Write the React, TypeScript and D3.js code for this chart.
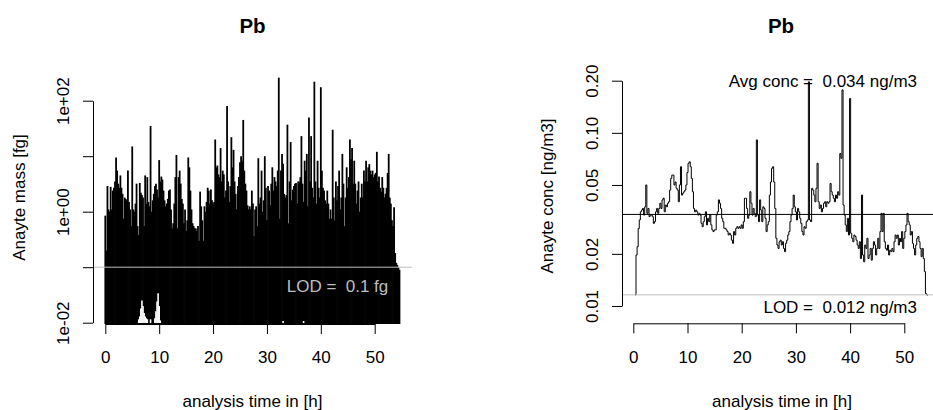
import React, { useEffect, useRef } from 'react';
import * as d3 from 'd3';

// sampling step of both series [h]
const stepH = 0.2;

// left panel: analyte mass per sample [fg], first sample at 0 h
const massStartH = 0;
const massValues = [
    0.85, 0.2, 2.9, 1.1, 1.0, 2.8, 1.1, 2.4, 2.7, 3.5,
    9.5, 5.5, 3.2, 2.7, 4.5, 2.7, 2.1, 0.75, 1.8, 1.7,
    1.6, 5.5, 1.5, 1.1, 0.55, 15, 1.1, 1.0, 1.4, 3.2,
    0.55, 0.38, 3.3, 2.2, 2.0, 1.8, 0.55, 4.5, 1.4, 4.2,
    1.5, 1.25, 35, 1.0, 1.6, 2.1, 2.9, 3.2, 2.5, 1.8,
    8.5, 3.5, 4.3, 3.8, 2.4, 1.6, 1.25, 1.4, 1.7, 2.4,
    2.5, 1.1, 0.5, 0.62, 1.4, 4.2, 10.5, 0.5, 4.2, 5.5,
    3.2, 1.7, 1.4, 0.62, 1.1, 0.45, 0.7, 9.5, 6.3, 2.4,
    1.1, 0.62, 0.55, 0.5, 0.5, 0.45, 0.55, 0.3, 2.3, 1.25,
    0.7, 0.3, 1.25, 1.0, 1.5, 2.7, 2.4, 1.4, 2.5, 1.6,
    1.4, 1.5, 20, 6.3, 6.8, 4.7, 4.2, 14, 3.5, 5.5,
    4.7, 1.8, 2.4, 80, 3.5, 1.5, 2.9, 22, 6.3, 13,
    3.5, 2.1, 1.1, 2.9, 4.2, 7.8, 10, 8.3, 45, 5.5,
    3.2, 2.4, 1.3, 1.1, 1.25, 1.1, 2.4, 1.4, 0.36, 1.1,
    1.25, 0.55, 9.2, 1.4, 1.8, 5.5, 1.0, 1.6, 10, 2.7,
    0.7, 2.9, 2.4, 1.3, 3.2, 6.3, 2.4, 4.2, 3.5, 2.9,
    5.5, 260, 0.75, 5.5, 11, 7.3, 2.1, 1.8, 2.0, 37,
    0.62, 3.5, 18, 1.6, 2.5, 2.9, 3.2, 3.3, 1.4, 3.5,
    3.5, 4.2, 23, 3.2, 1.5, 8.3, 5.5, 11, 1.25, 50,
    3.5, 23, 2.7, 1.8, 220, 3.5, 1.4, 8.3, 2.7, 1.8,
    175, 5.5, 2.7, 2.4, 1.6, 1.4, 2.4, 1.4, 0.75, 1.1,
    0.75, 30, 1.8, 0.7, 3.5, 1.6, 2.9, 5.5, 1.1, 1.8,
    11, 3.2, 0.55, 1.8, 6.3, 2.7, 4.2, 20, 8.8, 14,
    3.2, 8.3, 3.2, 1.4, 2.4, 3.5, 1.0, 1.8, 3.2, 1.8,
    5.5, 3.5, 8.3, 3.5, 6.3, 7.2, 5.5, 4.7, 5.5, 4.2,
    4.7, 5.0, 12, 3.5, 4.3, 2.7, 2.3, 4.2, 2.7, 1.8,
    2.1, 2.7, 5.0, 11, 1.8, 1.4, 0.7, 0.55, 1.2, 0.18,
    0.12, 0.11, 0.1, 0.09
];

// white marks at the bottom of the mass plot
const gapTimes = [6.2, 6.4, 6.6, 6.8, 7.0, 7.2, 7.4, 7.6, 7.8, 8.4, 9.2, 9.4, 9.6, 9.8, 10.0, 10.2, 33.0, 36.8];
const gapValues = [0.0115, 0.013, 0.018, 0.025, 0.02, 0.015, 0.013, 0.012, 0.0115, 0.0115, 0.012, 0.016, 0.024, 0.034, 0.02, 0.011, 0.0107, 0.0107];

// right panel: analyte concentration [ng/m3], first sample at 0.3 h
const concStartH = 0.3;
const concValues = [
    0.0116, 0.0197, 0.022, 0.028, 0.0314, 0.035, 0.0358, 0.0366, 0.0335, 0.0374,
    0.050, 0.0343, 0.0366, 0.0328, 0.0335, 0.0335, 0.0328, 0.030, 0.0307, 0.035,
    0.0366, 0.0343, 0.0366, 0.0392, 0.0366, 0.041, 0.0419, 0.035, 0.0383, 0.0374,
    0.0392, 0.040, 0.0467, 0.0546, 0.057, 0.057, 0.050, 0.052, 0.0478, 0.0467,
    0.040, 0.050, 0.0637, 0.0437, 0.0448, 0.0457, 0.0467, 0.050, 0.059, 0.0667,
    0.068, 0.0637, 0.0546, 0.0457, 0.0366, 0.035, 0.0358, 0.035, 0.0335, 0.0343,
    0.0335, 0.030, 0.0287, 0.0307, 0.0328, 0.035, 0.0294, 0.0321, 0.0307, 0.0335,
    0.0294, 0.0275, 0.0269, 0.0275, 0.0275, 0.0335, 0.035, 0.041, 0.0392, 0.0366,
    0.0321, 0.0307, 0.0281, 0.0281, 0.0275, 0.0269, 0.0257, 0.0263, 0.0257, 0.024,
    0.023, 0.0269, 0.0257, 0.0281, 0.0287, 0.0281, 0.0287, 0.0281, 0.0294, 0.0281,
    0.0307, 0.0419, 0.0419, 0.0366, 0.0321, 0.0335, 0.0457, 0.0392, 0.0335, 0.0366,
    0.0343, 0.0328, 0.091, 0.0335, 0.0307, 0.041, 0.0358, 0.0307, 0.0374, 0.0366,
    0.0321, 0.0269, 0.0294, 0.0307, 0.0437, 0.052, 0.0624, 0.0637, 0.052, 0.0366,
    0.0246, 0.0225, 0.0215, 0.0235, 0.024, 0.0225, 0.0235, 0.0215, 0.0206, 0.023,
    0.024, 0.0257, 0.0269, 0.0307, 0.0335, 0.0366, 0.0437, 0.0374, 0.035, 0.0314,
    0.0366, 0.035, 0.0321, 0.030, 0.0269, 0.0257, 0.0287, 0.0281, 0.0307, 0.0314,
    0.197, 0.0314, 0.0307, 0.0478, 0.0467, 0.0437, 0.040, 0.0478, 0.0667, 0.040,
    0.0366, 0.0383, 0.035, 0.0366, 0.0392, 0.040, 0.0374, 0.040, 0.0392, 0.040,
    0.051, 0.0457, 0.0437, 0.0419, 0.040, 0.0437, 0.0419, 0.0457, 0.0437, 0.076,
    0.0713, 0.177, 0.0383, 0.0335, 0.0294, 0.0269, 0.0321, 0.0257, 0.158, 0.0263,
    0.0246, 0.0235, 0.0257, 0.0252, 0.024, 0.0225, 0.0215, 0.0235, 0.0188, 0.0437,
    0.0197, 0.018, 0.0225, 0.0215, 0.0246, 0.0188, 0.0197, 0.0215, 0.0184, 0.0215,
    0.0235, 0.0225, 0.0197, 0.0215, 0.0246, 0.0215, 0.0269, 0.0343, 0.0269, 0.0343,
    0.0235, 0.0215, 0.021, 0.0225, 0.0197, 0.021, 0.0206, 0.0215, 0.0206, 0.0235,
    0.0257, 0.0246, 0.0257, 0.0225, 0.0246, 0.0235, 0.0269, 0.0215, 0.0246, 0.0269,
    0.0294, 0.0343, 0.0307, 0.0294, 0.0257, 0.0269, 0.023, 0.0215, 0.0197, 0.0225,
    0.0246, 0.0252, 0.0235, 0.0215, 0.0193, 0.0215, 0.0188, 0.0158, 0.0118, 0.0116,
    0.0115
];

const lodMass = 0.1;
const lodConc = 0.0116;
const avgConc = 0.0338;

const xTicks = [0, 10, 20, 30, 40, 50];
const massTicks = [0.01, 0.1, 1, 10, 100];
const massTickLabels = ['1e-02', '', '1e+00', '', '1e+02'];
const concTicks = [0.01, 0.02, 0.05, 0.1, 0.2];
const concTickLabels = ['0.01', '0.02', '0.05', '0.10', '0.20'];

const FONT = '"Liberation Sans", Arial, Helvetica, sans-serif';
const GRAY = '#bebebe';

export default function App() {
    const ref = useRef<SVGSVGElement>(null);

    useEffect(() => {
        const svg = d3.select(ref.current);
        svg.selectAll('*').remove();

        // R-like axes: ticks outside, rotated y labels
        const xAxis = (x, axisY, centerX, title) => {
            const g = svg.append('g')
                .attr('transform', `translate(0,${axisY})`)
                .call(d3.axisBottom(x).tickValues(xTicks).tickSize(10).tickSizeOuter(0));
            g.attr('font-size', 17).attr('font-family', FONT);
            g.selectAll('.tick text').attr('y', 363 - axisY).attr('dy', null).attr('fill', '#000');
            g.selectAll('line, path').attr('stroke', '#000');
            svg.append('text')
                .attr('x', centerX).attr('y', 406.5)
                .attr('text-anchor', 'middle')
                .attr('font-size', 17)
                .text(title);
        };

        const yAxis = (y, axisX, ticks, labels, titleX, titleY, title) => {
            const g = svg.append('g')
                .attr('transform', `translate(${axisX},0)`)
                .call(d3.axisLeft(y).tickValues(ticks).tickSize(10).tickSizeOuter(0)
                    .tickFormat((d, i) => labels[i]));
            g.attr('font-size', 17).attr('font-family', FONT);
            g.selectAll('.tick text')
                .attr('x', 0).attr('y', -24.5).attr('dy', null)
                .attr('transform', 'rotate(-90)')
                .attr('text-anchor', 'middle')
                .attr('fill', '#000');
            g.selectAll('line, path').attr('stroke', '#000');
            svg.append('text')
                .attr('transform', `translate(${titleX},${titleY}) rotate(-90)`)
                .attr('text-anchor', 'middle')
                .attr('font-size', 17)
                .text(title);
        };

        const label = (x, y, text, color, anchor = 'end', size = 17, weight = 'normal') => {
            svg.append('text')
                .attr('x', x).attr('y', y)
                .attr('text-anchor', anchor)
                .attr('font-size', size)
                .attr('font-weight', weight)
                .attr('fill', color)
                .attr('xml:space', 'preserve')
                .style('white-space', 'pre')
                .text(text);
        };

        // ---------- left panel: mass, type "h" ----------
        const L = { left: 93, right: 412, top: 77, bottom: 324 };
        const xL = d3.scaleLinear().domain([0, 50]).range([105.3, 374.7]);
        const yL = d3.scaleLog().domain([0.01, 100]).range([322.7, 100.7]);

        svg.append('g')
            .selectAll('line')
            .data(massValues)
            .join('line')
            .attr('x1', (d, i) => xL(massStartH + i * stepH))
            .attr('x2', (d, i) => xL(massStartH + i * stepH))
            .attr('y1', L.bottom)
            .attr('y2', d => yL(d))
            .attr('stroke', '#000')
            .attr('stroke-width', 1.8);

        svg.append('g')
            .selectAll('line')
            .data(gapValues)
            .join('line')
            .attr('x1', (d, i) => xL(gapTimes[i]))
            .attr('x2', (d, i) => xL(gapTimes[i]))
            .attr('y1', L.bottom - 1)
            .attr('y2', d => yL(d))
            .attr('stroke', '#fff')
            .attr('stroke-width', 1.6);

        svg.append('line')
            .attr('x1', L.left).attr('x2', L.right)
            .attr('y1', yL(lodMass)).attr('y2', yL(lodMass))
            .attr('stroke', GRAY);

        label(388.3, 291.5, `LOD =  ${lodMass} fg`, GRAY);

        xAxis(xL, L.bottom, 252.5, 'analysis time in [h]');
        yAxis(yL, L.left, massTicks, massTickLabels, 24.5, 197.5, 'Anayte mass [fg]');
        label(252.5, 33, 'Pb', '#000', 'middle', 20.5, 'bold');

        // ---------- right panel: concentration, type "s" ----------
        const R = { left: 622, right: 940, top: 77, bottom: 323.3 };
        const xR = d3.scaleLinear().domain([0, 50]).range([633.3, 904.3]);
        const yR = d3.scaleLog().domain([0.01, 0.2]).range([306, 80.7]);

        const line = d3.line<number>()
            .x((d, i) => xR(concStartH + i * stepH))
            .y(d => yR(d))
            .curve(d3.curveStepAfter);

        svg.append('path')
            .datum(concValues)
            .attr('d', line)
            .attr('fill', 'none')
            .attr('stroke', '#000')
            .attr('stroke-width', 1);

        svg.append('line')
            .attr('x1', R.left).attr('x2', R.right)
            .attr('y1', yR(avgConc)).attr('y2', yR(avgConc))
            .attr('stroke', '#000');

        svg.append('line')
            .attr('x1', R.left).attr('x2', R.right)
            .attr('y1', yR(lodConc)).attr('y2', yR(lodConc))
            .attr('stroke', GRAY);

        label(917, 87, `Avg conc =  ${avgConc.toFixed(3)} ng/m3`, '#000');
        label(917, 313, `LOD =  ${lodConc.toFixed(3)} ng/m3`, '#000');

        xAxis(xR, R.bottom, 782, 'analysis time in [h]');
        yAxis(yR, R.left, concTicks, concTickLabels, 553, 196, 'Anayte conc [ng/m3]');
        label(781, 33, 'Pb', '#000', 'middle', 20.5, 'bold');
    }, []);

    return (
        <svg
            ref={ref}
            width={933}
            height={410}
            fontFamily={FONT}
            style={{ position: 'absolute', left: 0, top: 0, background: '#fff', overflow: 'hidden' }}
        />
    );
}
